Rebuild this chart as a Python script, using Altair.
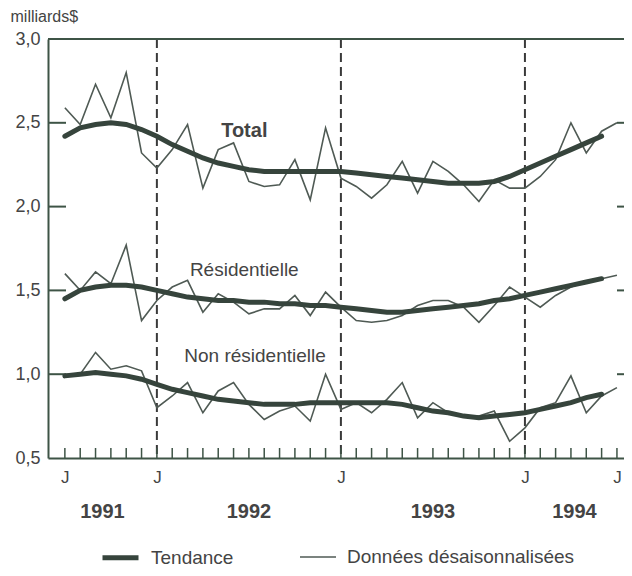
import altair as alt
import pandas as pd

# ---- data (month index 0 = July 1991) ----
months_raw = list(range(37))
total_raw = [2.59, 2.49, 2.73, 2.53, 2.80, 2.32, 2.23, 2.34, 2.49, 2.11, 2.34, 2.38,
             2.15, 2.12, 2.13, 2.28, 2.04, 2.47, 2.17, 2.12, 2.05, 2.13, 2.27, 2.08,
             2.27, 2.21, 2.13, 2.03, 2.16, 2.11, 2.11, 2.18, 2.28, 2.50, 2.32, 2.45, 2.50]
res_raw = [1.60, 1.50, 1.61, 1.54, 1.77, 1.32, 1.44, 1.52, 1.56, 1.37, 1.48, 1.43,
           1.36, 1.39, 1.39, 1.47, 1.35, 1.49, 1.40, 1.32, 1.31, 1.32, 1.35, 1.41,
           1.44, 1.44, 1.40, 1.31, 1.41, 1.52, 1.46, 1.40, 1.47, 1.52, 1.55, 1.57, 1.59]
nonres_raw = [1.00, 1.00, 1.13, 1.03, 1.05, 1.02, 0.80, 0.87, 0.95, 0.77, 0.90, 0.95,
              0.82, 0.73, 0.78, 0.81, 0.72, 1.00, 0.79, 0.83, 0.77, 0.85, 0.95, 0.74,
              0.83, 0.77, 0.75, 0.75, 0.78, 0.60, 0.68, 0.80, 0.83, 0.99, 0.77, 0.87, 0.92]

months_trend = list(range(36))
total_trend = [2.42, 2.47, 2.49, 2.50, 2.49, 2.46, 2.42, 2.37, 2.33, 2.29, 2.26, 2.24,
               2.22, 2.21, 2.21, 2.21, 2.21, 2.21, 2.21, 2.20, 2.19, 2.18, 2.17, 2.16,
               2.15, 2.14, 2.14, 2.14, 2.15, 2.18, 2.22, 2.26, 2.30, 2.34, 2.38, 2.42]
res_trend = [1.45, 1.50, 1.52, 1.53, 1.53, 1.52, 1.50, 1.48, 1.46, 1.45, 1.44, 1.44,
             1.43, 1.43, 1.42, 1.42, 1.41, 1.41, 1.40, 1.39, 1.38, 1.37, 1.37, 1.38,
             1.39, 1.40, 1.41, 1.42, 1.44, 1.45, 1.47, 1.49, 1.51, 1.53, 1.55, 1.57]
nonres_trend = [0.99, 1.00, 1.01, 1.00, 0.99, 0.97, 0.94, 0.91, 0.89, 0.87, 0.85, 0.84,
                0.83, 0.82, 0.82, 0.82, 0.83, 0.83, 0.83, 0.83, 0.83, 0.83, 0.82, 0.80,
                0.78, 0.77, 0.75, 0.74, 0.75, 0.76, 0.77, 0.79, 0.81, 0.83, 0.86, 0.88]

series_names = ["Total", "Résidentielle", "Non résidentielle"]
type_names = ["Tendance", "Données désaisonnalisées"]

y_tick_values = [0.5, 1.0, 1.5, 2.0, 2.5, 3.0]
inner_tick_values = [1.0, 1.5, 2.0, 2.5]
january_months = [6, 18, 30]
j_label_months = [0, 6, 18, 30, 36]
month_ticks = list(range(37))
years = ["1991", "1992", "1993", "1994"]

label_month = [11.7, 11.7, 12.4]
label_value = [2.45, 1.62, 1.11]

# ---- layout ----
W, H = 576, 419
XMIN, XMAX = -1.1, 36.46
FRAME = "#3e5446"
TXT = "#444444"
FONT = "Liberation Sans"

rows = []
for name, vals in zip(series_names, [total_raw, res_raw, nonres_raw]):
    for m, v in zip(months_raw, vals):
        rows.append({"m": m, "v": v, "series": name, "type": type_names[1]})
for name, vals in zip(series_names, [total_trend, res_trend, nonres_trend]):
    for m, v in zip(months_trend, vals):
        rows.append({"m": m, "v": v, "series": name, "type": type_names[0]})
df = pd.DataFrame(rows)

xscale = alt.Scale(domain=[XMIN, XMAX], nice=False, zero=False)
yscale = alt.Scale(domain=[0.5, 3.0], nice=False, zero=False)

x_axis = alt.Axis(values=j_label_months, labelExpr="'J'", ticks=False, grid=False,
                  domainColor=FRAME, domainWidth=2, labelFontSize=17, labelColor=TXT,
                  labelPadding=11, labelFont=FONT, title=None, labelFlush=False)
y_axis = alt.Axis(values=y_tick_values,
                  labelExpr="replace(format(datum.value, '.1f'), '.', ',')",
                  ticks=False, grid=False, domainColor=FRAME, domainWidth=2,
                  labelFontSize=18, labelColor=TXT, labelPadding=8, labelFont=FONT,
                  title="milliards$", titleAngle=0, titleAlign="left",
                  titleBaseline="middle", titleX=-38, titleY=-23, titleFontSize=16,
                  titleFontWeight="normal", titleColor=TXT, titleFont=FONT)

color = alt.Color("type:N", scale=alt.Scale(domain=type_names, range=["#36443c", "#4f5a54"]),
                  legend=alt.Legend(title=None, orient="none", legendX=52, legendY=498,
                                    direction="horizontal", symbolType="stroke",
                                    symbolSize=1296, labelFontSize=19, labelColor=TXT,
                                    labelFont=FONT, columnPadding=62, labelOffset=10,
                                    labelLimit=400))
swidth = alt.StrokeWidth("type:N", scale=alt.Scale(domain=type_names, range=[5, 1.6]),
                         legend=None)

base = alt.Chart(df)
raw_lines = base.transform_filter(alt.datum.type == type_names[1]).mark_line().encode(
    x=alt.X("m:Q", scale=xscale, axis=x_axis),
    y=alt.Y("v:Q", scale=yscale, axis=y_axis),
    detail="series:N", color=color, strokeWidth=swidth)
trend_lines = base.transform_filter(alt.datum.type == type_names[0]).mark_line(
    strokeCap="round").encode(
    x=alt.X("m:Q", scale=xscale), y=alt.Y("v:Q", scale=yscale),
    detail="series:N", color=color, strokeWidth=swidth)

# frame decorations
top_border = alt.Chart(pd.DataFrame({"a": [0]})).mark_rule(color=FRAME, strokeWidth=2).encode(
    x=alt.value(0), x2=alt.value(W), y=alt.value(0))
ytick_df = pd.DataFrame({"v": inner_tick_values})
left_ticks = alt.Chart(ytick_df).mark_rule(color=FRAME, strokeWidth=2).encode(
    y=alt.Y("v:Q", scale=yscale), x=alt.value(0), x2=alt.value(18))
right_ticks = alt.Chart(ytick_df).mark_rule(color=FRAME, strokeWidth=2).encode(
    y=alt.Y("v:Q", scale=yscale), x=alt.value(W - 7), x2=alt.value(W))
month_tick_marks = alt.Chart(pd.DataFrame({"m": month_ticks})).mark_rule(
    color=FRAME, strokeWidth=1.5).encode(
    x=alt.X("m:Q", scale=xscale), y=alt.value(H - 10), y2=alt.value(H))
dashed = alt.Chart(pd.DataFrame({"m": january_months})).mark_rule(
    color="#3a3a3a", strokeWidth=2, strokeDash=[9, 5]).encode(
    x=alt.X("m:Q", scale=xscale), y=alt.value(0), y2=alt.value(H))

# year labels centred on the visible part of each year
bounds = [XMIN] + january_months + [XMAX]
year_df = pd.DataFrame({"year": years,
                        "m": [(bounds[i] + bounds[i + 1]) / 2 for i in range(len(years))]})
year_text = alt.Chart(year_df).mark_text(fontSize=20, fontWeight="bold", color=TXT,
                                         font=FONT, baseline="middle").encode(
    x=alt.X("m:Q", scale=xscale), y=alt.value(H + 54), text="year:N")

lab_df = pd.DataFrame({"name": series_names, "m": label_month, "v": label_value})
total_lab = alt.Chart(lab_df.iloc[[0]]).mark_text(fontSize=20, fontWeight="bold", color=TXT,
                                                  font=FONT).encode(
    x=alt.X("m:Q", scale=xscale), y=alt.Y("v:Q", scale=yscale), text="name:N")
other_lab = alt.Chart(lab_df.iloc[[1, 2]]).mark_text(fontSize=19, color=TXT,
                                                     font=FONT).encode(
    x=alt.X("m:Q", scale=xscale), y=alt.Y("v:Q", scale=yscale), text="name:N")

chart = alt.layer(
    dashed, month_tick_marks, left_ticks, right_ticks, top_border,
    raw_lines, trend_lines, total_lab, other_lab, year_text
).properties(
    width=W, height=H,
    autosize=alt.AutoSizeParams(type="none"),
    padding={"left": 40, "top": 31, "right": 0, "bottom": 110},
    background="white"
).configure_view(stroke=None)

chart.save("out.html", embed_options={"renderer": "svg", "actions": False})
